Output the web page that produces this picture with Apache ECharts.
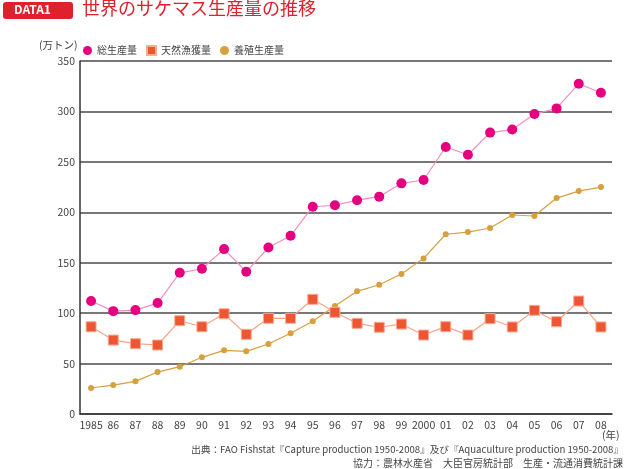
<!DOCTYPE html>
<html><head><meta charset="utf-8">
<script src="https://cdn.jsdelivr.net/npm/echarts@6/dist/echarts.min.js"></script>
<style>html,body{margin:0;padding:0;background:#fff}#c{width:624px;height:469px}</style>
</head><body><div id="c"></div>
<script>
const categories = ['1985','86','87','88','89','90','91','92','93','94','95','96','97','98','99','2000','01','02','03','04','05','06','07','08'];
const total = [112,102,103,110,140,144,163.5,141,165,176.7,205.5,207,212,215.5,228.7,232,264.7,257,279,282,297.4,303,327.5,318.5];
const capture = [86.5,73.3,69.7,68.4,92.5,86.5,99.4,79,94.9,94.9,113.7,100.8,89.9,86,89.2,78.3,86.6,78.3,94.5,86.3,102.8,91.5,112,86.3];
const aqua = [25.8,28.7,32.4,41.6,46.9,56.2,63.1,62.1,69.4,80,91.9,107,121.6,128.2,138.8,154.3,178.2,180.4,184.4,197.3,196.3,214.1,221,225];
const seriesNames = ['総生産量','天然漁獲量','養殖生産量'];
const FONT = '"Noto Sans CJK JP", "Noto Sans", sans-serif';

const chart = echarts.init(document.getElementById('c'), null, {renderer:'canvas'});
chart.setOption({
  animation: false,
  textStyle: {fontFamily: FONT},
  grid: {left: 80, right: 12, top: 61, bottom: 55, containLabel: false},
  legend: {
    left: 78, top: 40, itemWidth: 9, itemHeight: 9, itemGap: 9,
    textStyle: {fontFamily: FONT, fontSize: 10, color: '#444'},
    data: [
      {name: seriesNames[0], icon: 'circle'},
      {name: seriesNames[1], icon: 'rect'},
      {name: seriesNames[2], icon: 'circle'}
    ]
  },
  xAxis: {
    type: 'category', data: categories, boundaryGap: true,
    axisLine: {lineStyle: {color: '#333', width: 1.5}},
    axisTick: {inside: true, length: 5, lineStyle: {color: '#333', width: 1.2}},
    axisLabel: {color: '#444', fontSize: 10.5, margin: 6, interval: 0, fontFamily: FONT}
  },
  yAxis: {
    type: 'value', min: 0, max: 350, interval: 50,
    axisLine: {show: true, lineStyle: {color: '#333', width: 1.5}},
    axisTick: {show: false},
    axisLabel: {color: '#444', fontSize: 10.5, margin: 5, fontFamily: FONT},
    splitLine: {lineStyle: {color: '#4a4a4a', width: 1.5}}
  },
  graphic: [
    {type: 'rect', left: 3, top: 2, shape: {width: 70, height: 17, r: 3}, style: {fill: '#e0202a'}},
    {type: 'text', left: 14, top: 3, style: {text: 'DATA1', fill: '#fff', font: 'bold 12px ' + FONT}},
    {type: 'text', left: 82, top: -1, style: {text: '世界のサケマス生産量の推移', fill: '#e0202a', font: '18px ' + FONT}},
    {type: 'text', left: 39, top: 40, style: {text: '(万トン)', fill: '#444', font: '10.5px ' + FONT}},
    {type: 'text', left: 602, top: 430, style: {text: '(年)', fill: '#444', font: '10.5px ' + FONT}},
    {type: 'text', right: 1, top: 445, style: {text: '出典：FAO Fishstat『Capture production 1950-2008』及び『Aquaculture production 1950-2008』', fill: '#444', font: '9.6px ' + FONT}},
    {type: 'text', right: 1, top: 458, style: {text: '協力：農林水産省　大臣官房統計部　生産・流通消費統計課', fill: '#444', font: '10px ' + FONT}}
  ],
  series: [
    {name: seriesNames[2], type: 'line', data: aqua, symbol: 'circle', symbolSize: 6,
     itemStyle: {color: '#d6a03e'}, lineStyle: {color: '#d6a03e', width: 1.2}, z: 2},
    {name: seriesNames[1], type: 'line', data: capture, symbol: 'rect', symbolSize: 10,
     itemStyle: {color: '#ee5533', borderColor: '#f6ad95', borderWidth: 1}, lineStyle: {color: '#f5a486', width: 1.2}, z: 3},
    {name: seriesNames[0], type: 'line', data: total, symbol: 'circle', symbolSize: 10,
     itemStyle: {color: '#e4007f'}, lineStyle: {color: '#f18fc0', width: 1.2}, z: 4}
  ]
});
</script></body></html>
